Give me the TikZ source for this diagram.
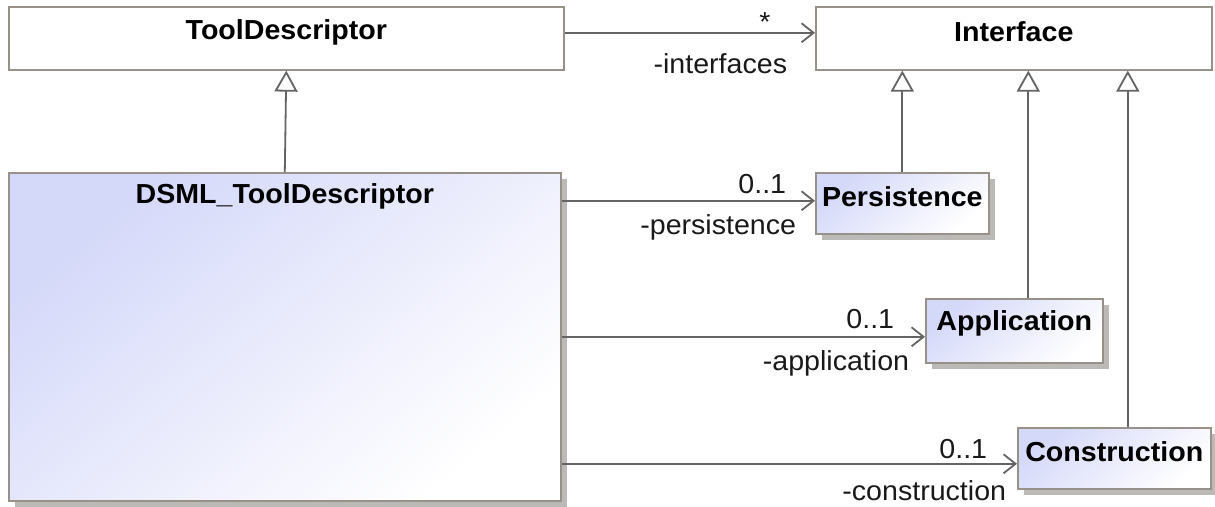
\documentclass[tikz,border=0pt]{standalone}
\usepackage{fontspec}
\setmainfont{Liberation Sans}[FakeStretch=1.04]
\usetikzlibrary{arrows.meta,shadows}
\definecolor{boxline}{RGB}{152,145,138}
\definecolor{wire}{RGB}{100,100,100}
\definecolor{lav}{RGB}{212,216,249}
\definecolor{shadowgray}{RGB}{188,186,183}
\begin{document}
\begin{tikzpicture}[x=1pt,y=-1pt,
  box/.style={draw=boxline, line width=1.6pt, inner sep=0pt, anchor=north west},
  plainbox/.style={box, fill=white},
  classbox/.style={box, top color=lav, bottom color=white, shading angle=40,
    drop shadow={shadow xshift=6pt, shadow yshift=-6pt, fill=shadowgray, opacity=1}},
  title/.style={font=\fontsize{27.5}{32}\selectfont\bfseries, inner sep=0pt, text=black},
  tag/.style={font=\fontsize{27.5}{32}\selectfont, inner sep=0pt, text=black!90},
  wireline/.style={draw=wire, line width=1.8pt},
  assoc/.style={wireline, -{Straight Barb[length=12pt, width=19pt]}},
  gen/.style={wireline, -{Triangle[length=21pt, width=23pt, fill=white]}},
]
% canvas
\fill[white] (0,0) rectangle (1215,506);
\useasboundingbox (0,0) rectangle (1215,506);

% classes
\node[plainbox, minimum width=555pt, minimum height=63pt] (td) at (8,6) {};
\node[title] (tdname) at ([yshift=-26pt]td.north) {ToolDescriptor};

\node[plainbox, minimum width=396pt, minimum height=63pt] (iface) at (815,6) {};
\node[title] (ifname) at ([yshift=-26pt]iface.north) {Interface};

\node[classbox, minimum width=552pt, minimum height=328pt] (dsml) at (8,172) {};
\node[title] (dsmlname) at ([yshift=-24pt]dsml.north) {DSML\_ToolDescriptor};

\node[classbox, minimum width=173pt, minimum height=61pt] (pers) at (815,172) {};
\node[title] (persname) at ([yshift=-25pt]pers.north) {Persistence};

\node[classbox, minimum width=177pt, minimum height=64pt] (app) at (925,298) {};
\node[title] (appname) at ([yshift=-25pt]app.north) {Application};

\node[classbox, minimum width=193pt, minimum height=61pt] (cons) at (1017,427) {};
\node[title] (consname) at ([yshift=-25pt]cons.north) {Construction};

% generalizations
\draw[gen] (dsml.north) -- (td.south);
\coordinate (persup) at (pers.north);
\coordinate (appup) at ([xshift=14pt]app.north);
\coordinate (consup) at ([xshift=13.5pt]cons.north);
\draw[gen] (persup) -- (persup |- iface.south);
\draw[gen] (appup) -- (appup |- iface.south);
\draw[gen] (consup) -- (consup |- iface.south);

% associations
\coordinate (tdout) at ([yshift=5.5pt]td.east);
\draw[assoc] (tdout) -- (tdout -| iface.west)
  node[tag, pos=1, anchor=center, xshift=-50pt, yshift=10.5pt] (ifmult) {*}
  node[tag, pos=1, anchor=east, xshift=-27pt, yshift=-31pt] (ifrole) {-interfaces};

\coordinate (persin) at ([yshift=2.5pt]pers.west);
\draw[assoc] (dsml.east |- persin) -- (persin)
  node[tag, pos=1, anchor=east, xshift=-28pt, yshift=17pt] (persmult) {0..1}
  node[tag, pos=1, anchor=east, xshift=-18pt, yshift=-27pt] (persrole) {-persistence};

\coordinate (appin) at ([yshift=-6pt]app.west);
\draw[assoc] (dsml.east |- appin) -- (appin)
  node[tag, pos=1, anchor=east, xshift=-30pt, yshift=18pt] (appmult) {0..1}
  node[tag, pos=1, anchor=east, xshift=-15pt, yshift=-27pt] (approle) {-application};

\coordinate (consin) at ([yshift=-5.5pt]cons.west);
\draw[assoc] (dsml.east |- consin) -- (consin)
  node[tag, pos=1, anchor=east, xshift=-29pt, yshift=15pt] (consmult) {0..1}
  node[tag, pos=1, anchor=east, xshift=-10pt, yshift=-27pt] (consrole) {-construction};
\end{tikzpicture}
\end{document}
